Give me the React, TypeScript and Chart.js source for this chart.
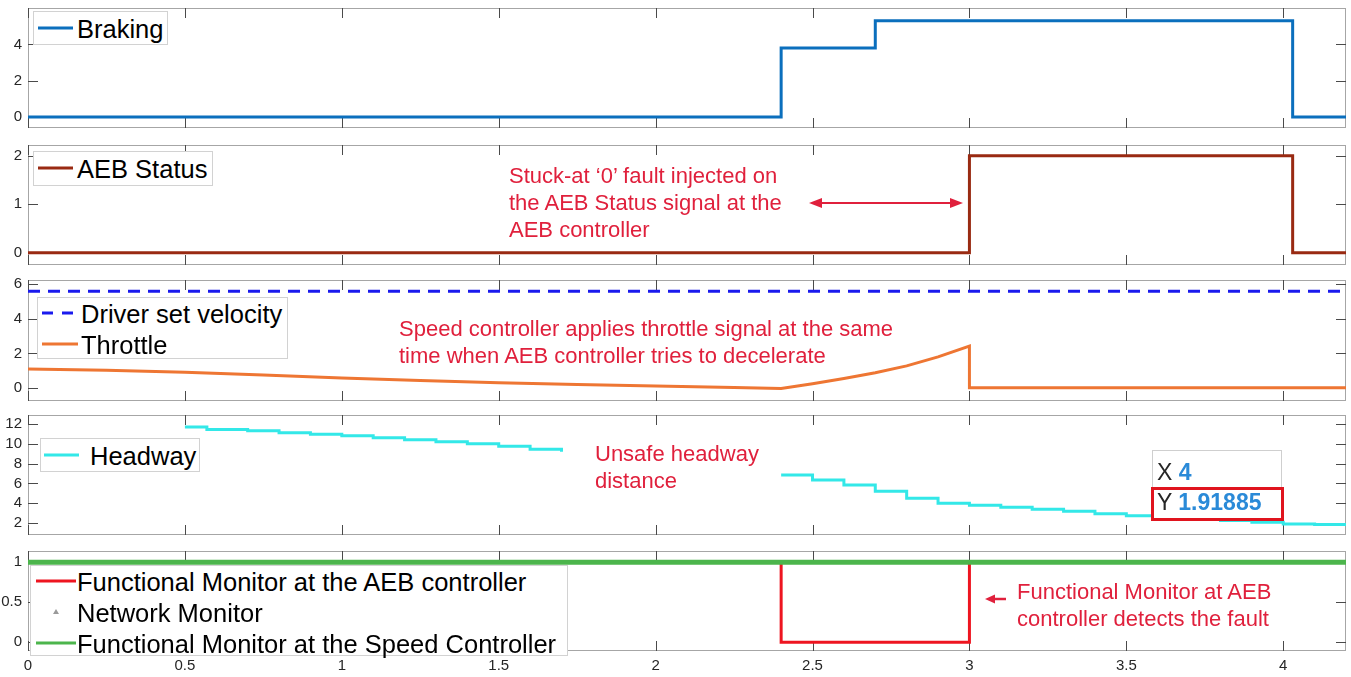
import React, { useEffect, useRef } from "react";
import { Chart, registerables } from "chart.js";

Chart.register(...registerables);

const FONT = '"Liberation Sans", Arial, Helvetica, sans-serif';

// ---------- data ----------
const xTicks = [0, 0.5, 1, 1.5, 2, 2.5, 3, 3.5, 4];

const brakingT = [0, 2.4, 2.7, 4.03, 4.2];
const brakingV = [0, 3.8, 5.3, 0, 0];

const aebT = [0, 3.0, 4.03, 4.2];
const aebV = [0, 2, 0, 0];

const velocityT = [0, 4.2];
const velocityV = [5.6, 5.6];

const throttleT = [0, 0.25, 0.5, 0.75, 1, 1.25, 1.5, 1.75, 2, 2.25, 2.4, 2.5, 2.6, 2.7, 2.8, 2.9, 3.0, 3.0, 3.5, 4.2];
const throttleV = [1.1, 1.03, 0.92, 0.75, 0.58, 0.44, 0.3, 0.2, 0.12, 0.03, -0.02, 0.25, 0.55, 0.88, 1.28, 1.8, 2.42, 0.02, 0.02, 0.02];

const headwayT = [0.5, 0.57, 0.7, 0.8, 0.9, 1.0, 1.1, 1.2, 1.3, 1.4, 1.5, 1.6, 1.7, 2.05, 2.4, 2.5, 2.6, 2.7, 2.8, 2.9, 3.0, 3.1, 3.2, 3.3, 3.4, 3.5, 3.6, 3.7, 3.8, 3.9, 4.0, 4.1, 4.2];
const headwayV = [11.7, 11.45, 11.3, 11.1, 10.95, 10.8, 10.6, 10.4, 10.2, 10.0, 9.75, 9.45, 9.2, null, 6.85, 6.35, 5.85, 5.2, 4.5, 4.0, 3.8, 3.6, 3.4, 3.2, 2.95, 2.75, 2.55, 2.4, 2.25, 2.08, 1.92, 1.85, 1.8];

const fmAebT = [0, 2.4, 3.0, 4.2];
const fmAebV = [1, 0, 1, 1];

const netT = [0, 0.5, 1, 1.5, 2, 2.5, 3, 3.5, 4];
const netV = [1, 1, 1, 1, 1, 1, 1, 1, 1];

const fmSpeedT = [0, 4.2];
const fmSpeedV = [1, 1];

const tipX = "4";
const tipY = "1.91885";

// ---------- helpers ----------
const pts = (t: number[], v: (number | null)[]) => t.map((x, i) => ({ x, y: v[i] }));

const COLORS = {
  braking: "#0b6fbd",
  aeb: "#992a12",
  velocity: "#1a1aee",
  throttle: "#ee7633",
  headway: "#33e8e8",
  fmAeb: "#ee1520",
  net: "#9a9a9a",
  fmSpeed: "#4cb54c",
  note: "#e0203c",
};

const matlabAxes = {
  id: "matlabAxes",
  beforeDatasetsDraw(chart: any, _args: any, opts: any) {
    const { ctx, chartArea } = chart;
    const { left, right, top, bottom } = chartArea;
    const xs = chart.scales.x;
    const ys = chart.scales.y;
    ctx.save();
    ctx.lineWidth = 1;
    ctx.strokeStyle = "#a6a6a6";
    ctx.strokeRect(Math.round(left) + 0.5, Math.round(top) + 0.5, Math.round(right - left) - 1, Math.round(bottom - top) - 1);
    ctx.strokeStyle = "#4a4a4a";
    const len = 10;
    ctx.beginPath();
    for (const v of xTicks) {
      const px = Math.round(xs.getPixelForValue(v)) + 0.5;
      ctx.moveTo(px, top);
      ctx.lineTo(px, top + len);
      ctx.moveTo(px, bottom);
      ctx.lineTo(px, bottom - len);
    }
    for (const v of opts.yTicks || []) {
      const py = Math.round(ys.getPixelForValue(v)) + 0.5;
      ctx.moveTo(left, py);
      ctx.lineTo(left + len, py);
      ctx.moveTo(right, py);
      ctx.lineTo(right - len, py);
    }
    ctx.stroke();
    ctx.restore();
  },
};

type PanelSpec = {
  top: number;
  bottom: number;
  yMin: number;
  yMax: number;
  yTicks: number[];
  showX: boolean;
  datasets: any[];
};

function ChartPanel({ spec }: { spec: PanelSpec }) {
  const ref = useRef<HTMLCanvasElement | null>(null);
  const canvasTop = spec.top - 10;
  const canvasH = spec.showX ? 677 - canvasTop : spec.bottom - spec.top + 20;
  useEffect(() => {
    if (!ref.current) return;
    const chart = new Chart(ref.current, {
      type: "line",
      data: { datasets: spec.datasets },
      plugins: [matlabAxes],
      options: {
        responsive: false,
        animation: false,
        devicePixelRatio: 1,
        layout: { autoPadding: false, padding: { top: 10, right: 5, bottom: spec.showX ? 0 : 10, left: 0 } },
        plugins: {
          legend: { display: false },
          tooltip: { enabled: false },
          matlabAxes: { yTicks: spec.yTicks },
        } as any,
        elements: { point: { radius: 0 } },
        scales: {
          x: {
            type: "linear",
            min: 0,
            max: 4.2,
            display: spec.showX,
            grid: { display: false, drawTicks: false },
            border: { display: false },
            afterBuildTicks: (s: any) => {
              s.ticks = xTicks.map((value) => ({ value }));
            },
            afterFit: (s: any) => {
              s.height = spec.showX ? 26 : 0;
              s.paddingLeft = 0;
              s.paddingRight = 0;
            },
            ticks: {
              autoSkip: false,
              maxRotation: 0,
              padding: 6,
              color: "#262626",
              font: { family: FONT, size: 15 },
              callback: (v: any) => String(v),
            },
          },
          y: {
            type: "linear",
            min: spec.yMin,
            max: spec.yMax,
            grid: { display: false, drawTicks: false },
            border: { display: false },
            afterBuildTicks: (s: any) => {
              s.ticks = spec.yTicks.map((value) => ({ value }));
            },
            afterFit: (s: any) => {
              s.width = 28;
              s.paddingTop = 0;
              s.paddingBottom = 0;
            },
            ticks: {
              autoSkip: false,
              padding: 6,
              color: "#262626",
              font: { family: FONT, size: 15 },
              callback: (v: any) => String(v),
            },
          },
        },
      } as any,
    });
    return () => chart.destroy();
  }, []);
  return (
    <canvas
      ref={ref}
      width={1351}
      height={canvasH}
      style={{ position: "absolute", left: 0, top: canvasTop, width: 1351, height: canvasH }}
    />
  );
}

const line = (label: string, t: number[], v: (number | null)[], color: string, width: number, extra: any = {}) => ({
  label,
  data: pts(t, v),
  borderColor: color,
  backgroundColor: color,
  borderWidth: width,
  pointRadius: 0,
  fill: false,
  tension: 0,
  spanGaps: false,
  ...extra,
});

const panels: PanelSpec[] = [
  {
    top: 8, bottom: 128, yMin: -0.6, yMax: 6, yTicks: [0, 2, 4], showX: false,
    datasets: [line("Braking", brakingT, brakingV, COLORS.braking, 3, { stepped: true })],
  },
  {
    top: 145, bottom: 265, yMin: -0.25, yMax: 2.22, yTicks: [0, 1, 2], showX: false,
    datasets: [line("AEB Status", aebT, aebV, COLORS.aeb, 3, { stepped: true })],
  },
  {
    top: 280, bottom: 401, yMin: -0.75, yMax: 6.25, yTicks: [0, 2, 4, 6], showX: false,
    datasets: [
      line("Driver set velocity", velocityT, velocityV, COLORS.velocity, 3, { borderDash: [12, 8] }),
      line("Throttle", throttleT, throttleV, COLORS.throttle, 3),
    ],
  },
  {
    top: 415, bottom: 535, yMin: 0.8, yMax: 12.9, yTicks: [2, 4, 6, 8, 10, 12], showX: false,
    datasets: [line("Headway", headwayT, headwayV, COLORS.headway, 3, { stepped: true })],
  },
  {
    top: 551, bottom: 651, yMin: -0.11, yMax: 1.14, yTicks: [0, 0.5, 1], showX: true,
    datasets: [
      line("Functional Monitor at the Speed Controller", fmSpeedT, fmSpeedV, COLORS.fmSpeed, 5),
      line("Functional Monitor at the AEB controller", fmAebT, fmAebV, COLORS.fmAeb, 3, { stepped: true }),
      line("Network Monitor", netT, netV, COLORS.net, 1, { showLine: false, pointStyle: "triangle", pointRadius: 2 }),
    ],
  },
];

type LegendItem = { label: string; color: string; width: number; dash?: boolean; marker?: boolean; cy: number };

function Legend({ left, top, width, height, items, sampleX, sampleW, textX }: {
  left: number; top: number; width: number; height: number; items: LegendItem[]; sampleX: number; sampleW: number; textX: number;
}) {
  return (
    <div style={{ position: "absolute", left, top, width, height, background: "#fff", border: "1px solid #d2d2d2", boxSizing: "border-box" }}>
      <svg width={width} height={height} style={{ position: "absolute", left: -1, top: -1 }}>
        {items.map((it, i) =>
          it.marker ? (
            <polygon key={i} points={`${sampleX + sampleW / 2},${it.cy - 3} ${sampleX + sampleW / 2 - 3},${it.cy + 2} ${sampleX + sampleW / 2 + 3},${it.cy + 2}`} fill={it.color} />
          ) : (
            <line key={i} x1={sampleX} x2={sampleX + sampleW} y1={it.cy} y2={it.cy} stroke={it.color} strokeWidth={it.width} strokeDasharray={it.dash ? "11 9" : undefined} />
          )
        )}
      </svg>
      {items.map((it, i) => (
        <div key={i} style={{ position: "absolute", left: textX - 1, top: it.cy - 16, height: 32, lineHeight: "32px", fontSize: 25.5, color: "#000", whiteSpace: "nowrap", fontFamily: FONT }}>
          {it.label}
        </div>
      ))}
    </div>
  );
}

function Note({ left, top, text }: { left: number; top: number; text: string }) {
  return (
    <div style={{ position: "absolute", left, top, fontSize: 22, lineHeight: "27px", color: COLORS.note, whiteSpace: "pre", fontFamily: FONT }}>
      {text}
    </div>
  );
}

export default function App() {
  useEffect(() => {
    Chart.defaults.font.family = FONT;
  }, []);
  return (
    <div style={{ position: "absolute", left: 0, top: 0, width: 1351, height: 677, background: "#fff", overflow: "hidden", fontFamily: FONT }}>
      {panels.map((p, i) => (
        <ChartPanel key={i} spec={p} />
      ))}

      <Legend left={33} top={11} width={135} height={34} sampleX={5} sampleW={35} textX={44}
        items={[{ label: "Braking", color: COLORS.braking, width: 3, cy: 17 }]} />
      <Legend left={33} top={151} width={180} height={35} sampleX={5} sampleW={35} textX={44}
        items={[{ label: "AEB Status", color: COLORS.aeb, width: 3, cy: 17 }]} />
      <Legend left={37} top={297} width={251} height={62} sampleX={5} sampleW={36} textX={44}
        items={[
          { label: "Driver set velocity", color: COLORS.velocity, width: 3, dash: true, cy: 16 },
          { label: "Throttle", color: COLORS.throttle, width: 3, cy: 47 },
        ]} />
      <Legend left={40} top={438} width={160} height={34} sampleX={4} sampleW={35} textX={50}
        items={[{ label: "Headway", color: COLORS.headway, width: 3, cy: 17 }]} />
      <Legend left={30} top={565} width={538} height={91} sampleX={6} sampleW={40} textX={47}
        items={[
          { label: "Functional Monitor at the AEB controller", color: COLORS.fmAeb, width: 3, cy: 16 },
          { label: "Network Monitor", color: "#9a9a9a", width: 1, marker: true, cy: 47 },
          { label: "Functional Monitor at the Speed Controller", color: COLORS.fmSpeed, width: 3, cy: 78 },
        ]} />

      <Note left={509} top={162} text={"Stuck-at \u20180\u2019 fault injected on\nthe AEB Status signal at the\nAEB controller"} />
      <Note left={399} top={315} text={"Speed controller applies throttle signal at the same\ntime when AEB controller tries to decelerate"} />
      <Note left={595} top={440} text={"Unsafe headway\ndistance"} />
      <Note left={1017} top={578} text={"Functional Monitor at AEB\ncontroller detects the fault"} />

      <svg width={1351} height={677} style={{ position: "absolute", left: 0, top: 0, pointerEvents: "none" }}>
        <line x1={818} x2={954} y1={203} y2={203} stroke={COLORS.note} strokeWidth={2} />
        <polygon points="809,203 822,198 822,208" fill={COLORS.note} />
        <polygon points="963,203 950,198 950,208" fill={COLORS.note} />
        <line x1={993} x2={1006} y1={599} y2={599} stroke={COLORS.note} strokeWidth={2.5} />
        <polygon points="985,599 995,594.5 995,603.5" fill={COLORS.note} />
      </svg>

      <div style={{ position: "absolute", left: 1152, top: 450, width: 130, height: 70, background: "#fff", border: "1px solid #cfcfcf", boxSizing: "border-box" }} />
      <div style={{ position: "absolute", left: 1157, top: 458, lineHeight: "28px", fontSize: 23, whiteSpace: "nowrap", fontFamily: FONT }}>
        <span style={{ color: "#262626" }}>X </span>
        <span style={{ color: "#2a8ad8", fontWeight: "bold" }}>{tipX}</span>
      </div>
      <div style={{ position: "absolute", left: 1151, top: 487, width: 133, height: 34, border: "3px solid #e0141e", boxSizing: "border-box", background: "#fff" }} />
      <div style={{ position: "absolute", left: 1157, top: 488, lineHeight: "28px", fontSize: 23, whiteSpace: "nowrap", fontFamily: FONT }}>
        <span style={{ color: "#262626" }}>Y </span>
        <span style={{ color: "#2a8ad8", fontWeight: "bold" }}>{tipY}</span>
      </div>
    </div>
  );
}
